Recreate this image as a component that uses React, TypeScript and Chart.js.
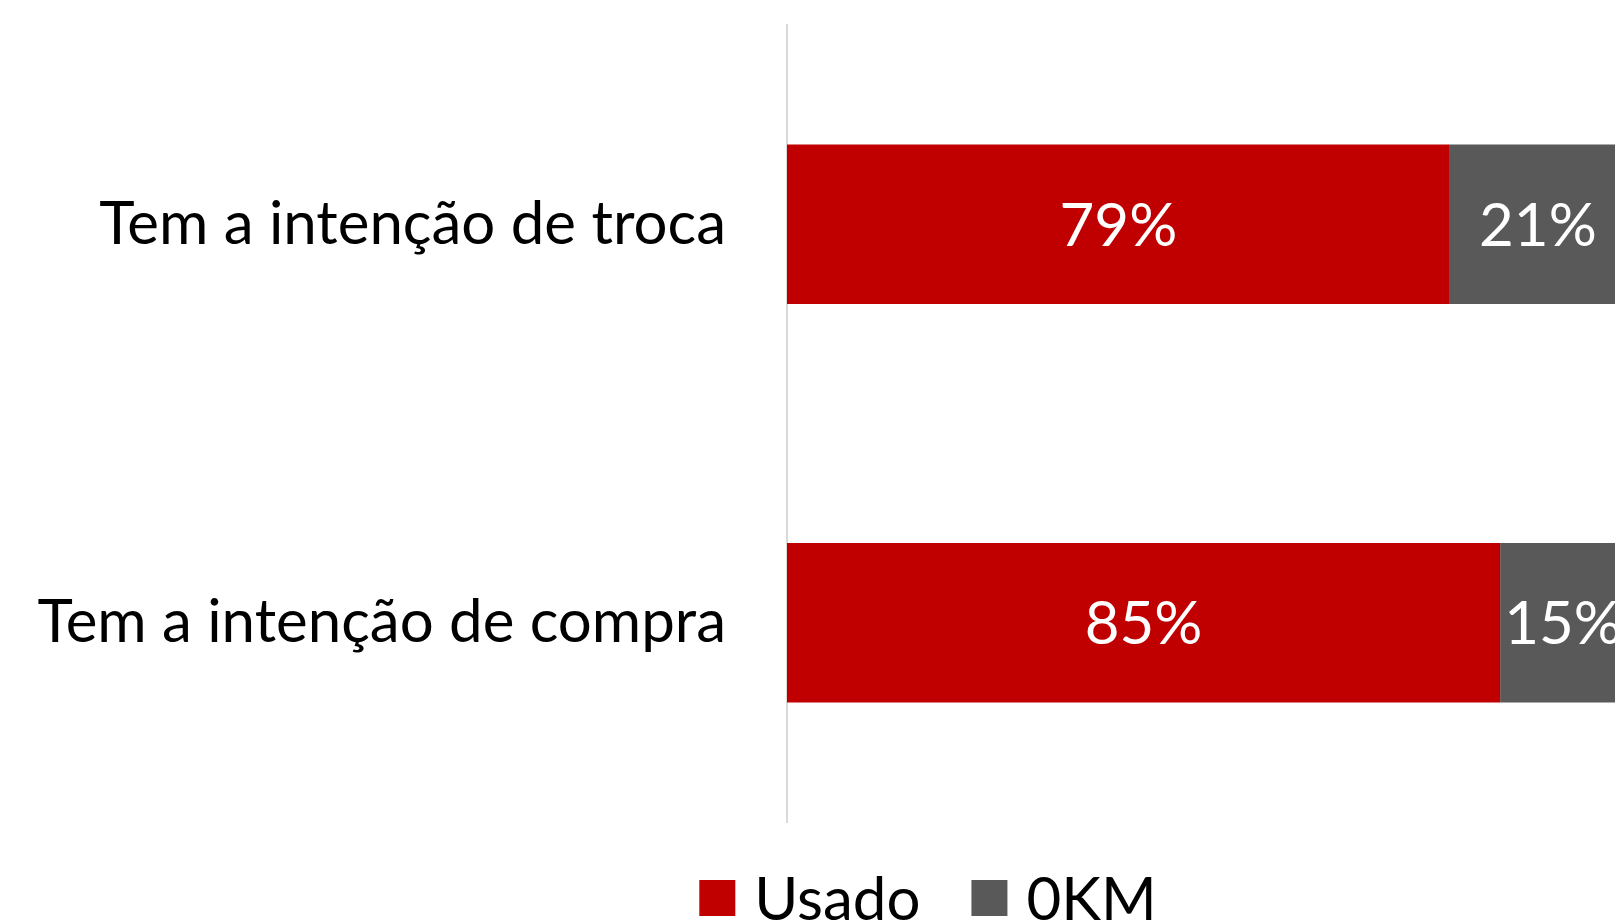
import React, { useEffect, useRef } from 'react';
import { Chart, registerables } from 'chart.js';

Chart.register(...registerables);

const categories = ['Tem a intenção de troca', 'Tem a intenção de compra'];
const usadoValues = [79, 85];
const okmValues = [21, 15];
const seriesNames = ['Usado', '0KM'];
const seriesColors = ['#C00000', '#595959'];
const xMax = 100;

const FONT = 'Lato';
const FONT_SIZE = 60;

const dataLabelPlugin = {
  id: 'dataLabels',
  afterDatasetsDraw(chart: any) {
    const ctx = chart.ctx;
    ctx.save();
    ctx.font = `${FONT_SIZE}px ${FONT}`;
    ctx.fillStyle = '#ffffff';
    ctx.textAlign = 'center';
    ctx.textBaseline = 'alphabetic';
    const cap = ctx.measureText('H').actualBoundingBoxAscent;
    chart.data.datasets.forEach((ds: any, i: number) => {
      const meta = chart.getDatasetMeta(i);
      meta.data.forEach((bar: any, j: number) => {
        const p = bar.getProps(['x', 'y', 'base'], true);
        const cx = (p.x + p.base) / 2;
        ctx.fillText(`${ds.data[j]}%`, cx, p.y + cap / 2);
      });
    });
    ctx.restore();
  },
};

const customLegendPlugin = {
  id: 'customLegend',
  afterDraw(chart: any) {
    const ctx = chart.ctx;
    ctx.save();
    ctx.font = `${FONT_SIZE}px ${FONT}`;
    ctx.textBaseline = 'alphabetic';
    ctx.textAlign = 'left';
    const box = 36;
    const gapBoxText = 19;
    const gapItems = 51;
    const items = chart.data.datasets.map((ds: any) => ({
      text: ds.label,
      color: ds.backgroundColor,
      w: ctx.measureText(ds.label).width,
    }));
    const total =
      items.reduce((a: number, it: any) => a + box + gapBoxText + it.w, 0) +
      gapItems * (items.length - 1);
    let x = chart.width / 2 - total / 2;
    const cy = 898;
    const cap = ctx.measureText('H').actualBoundingBoxAscent;
    items.forEach((it: any) => {
      ctx.fillStyle = it.color;
      ctx.fillRect(x, cy - box / 2, box, box);
      x += box + gapBoxText;
      ctx.fillStyle = '#000000';
      ctx.fillText(it.text, x, cy + cap / 2);
      x += it.w + gapItems;
    });
    ctx.restore();
  },
};

export default function App() {
  const ref = useRef<HTMLCanvasElement | null>(null);

  useEffect(() => {
    if (!ref.current) return;
    const chart = new Chart(ref.current, {
      type: 'bar',
      data: {
        labels: categories,
        datasets: [
          {
            label: seriesNames[0],
            data: usadoValues,
            backgroundColor: seriesColors[0],
            borderWidth: 0,
            barPercentage: 0.4,
            categoryPercentage: 1,
          },
          {
            label: seriesNames[1],
            data: okmValues,
            backgroundColor: seriesColors[1],
            borderWidth: 0,
            barPercentage: 0.4,
            categoryPercentage: 1,
          },
        ],
      },
      options: {
        indexAxis: 'y',
        responsive: false,
        animation: false,
        layout: { padding: { top: 25, right: 230, left: 0, bottom: 0 } },
        scales: {
          x: {
            stacked: true,
            min: 0,
            max: xMax,
            display: true,
            grid: { display: false, drawTicks: false },
            border: { display: false },
            ticks: { display: false },
            afterFit: (s: any) => {
              s.height = 99;
              s.paddingLeft = 0;
              s.paddingRight = 0;
            },
          },
          y: {
            stacked: true,
            grid: { display: false, drawTicks: false },
            border: { display: true, color: '#d9d9d9', width: 2 },
            ticks: {
              color: '#000000',
              padding: 61,
              font: { family: FONT, size: FONT_SIZE },
            },
            afterFit: (s: any) => {
              s.width = 787;
              s.paddingTop = 0;
              s.paddingBottom = 0;
            },
          },
        },
        plugins: {
          legend: { display: false },
          tooltip: { enabled: false },
        },
      },
      plugins: [dataLabelPlugin, customLegendPlugin],
    } as any);
    return () => chart.destroy();
  }, []);

  return (
    <div
      style={{
        position: 'fixed',
        left: 0,
        top: 0,
        width: 1615,
        height: 921,
        overflow: 'hidden',
        background: '#ffffff',
      }}
    >
      <canvas ref={ref} width={1856} height={921} style={{ display: 'block' }} />
    </div>
  );
}
